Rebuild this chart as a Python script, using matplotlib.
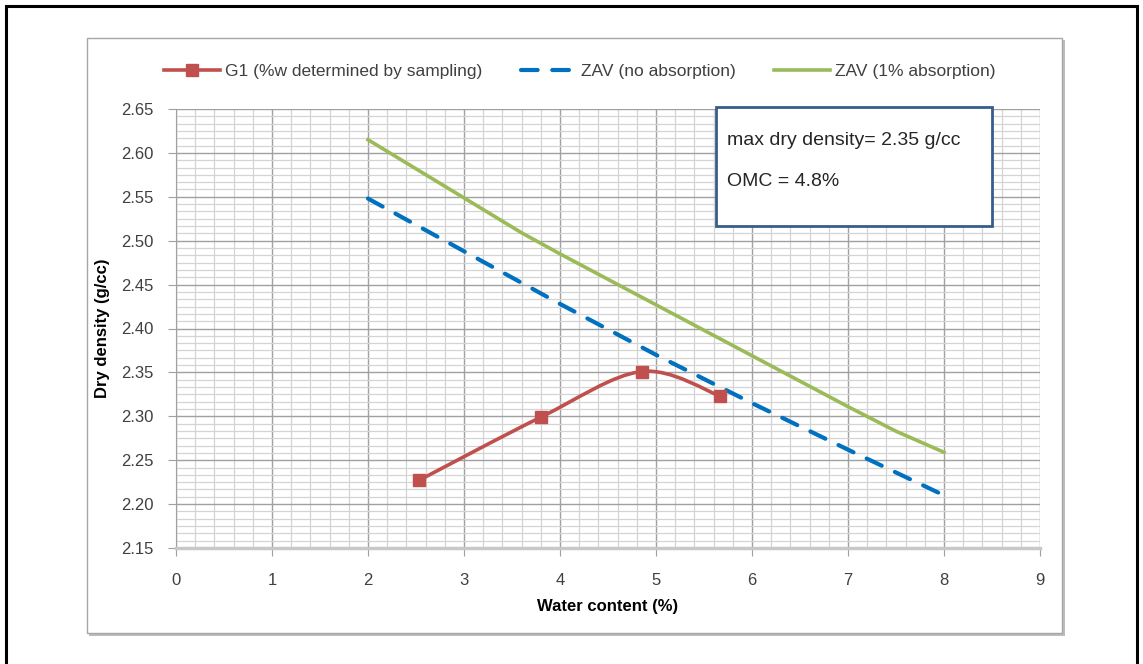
import numpy as np
import matplotlib
matplotlib.use("Agg")
import matplotlib.pyplot as plt
from matplotlib.path import Path
from matplotlib.patches import PathPatch, Rectangle
from matplotlib.ticker import MultipleLocator

plt.rcParams['font.family'] = ['Liberation Sans', 'DejaVu Sans']

# G1 compaction points
g1_w = [2.53, 3.80, 4.85, 5.67]
g1_rho = [2.227, 2.299, 2.351, 2.323]

# zero air voids, no absorption
zav_w = [2, 3, 4, 5, 6, 7, 8]
zav_rho = [2.548, 2.488, 2.428, 2.370, 2.315, 2.262, 2.210]

# zero air voids, 1% absorption
zav1_w = [2, 3.6, 4, 5, 6, 7, 7.5, 8]
zav1_rho = [2.615, 2.509, 2.485, 2.427, 2.369, 2.311, 2.283, 2.259]

x_ticks = list(range(0, 10))
y_ticks = [2.15, 2.20, 2.25, 2.30, 2.35, 2.40, 2.45, 2.50, 2.55, 2.60, 2.65]

red = '#c0504d'
blue = '#0070c0'
green = '#9bbb59'


def smooth_path(xs, ys):
    # excel style smoothed line, bezier segments through the points
    pts = np.column_stack([xs, ys])
    n = len(pts)
    verts = [pts[0]]
    codes = [Path.MOVETO]
    for i in range(n - 1):
        p0 = pts[i - 1] if i > 0 else pts[i]
        p1 = pts[i]
        p2 = pts[i + 1]
        p3 = pts[i + 2] if i + 2 < n else pts[i + 1]
        c1 = p1 + (p2 - p0) / 6.0
        c2 = p2 - (p3 - p1) / 6.0
        verts += [c1, c2, p2]
        codes += [Path.CURVE4] * 3
    return Path(verts, codes)


fig = plt.figure(figsize=(11.43, 6.64), dpi=100)

# outer black frame and chart area frame
fig.patches.append(Rectangle((6 / 1143, -0.05), 1131 / 1143, 1.05 - 6 / 664,
                             transform=fig.transFigure, fill=False,
                             edgecolor='black', linewidth=2.2, zorder=-1))
fig.patches.append(Rectangle((89 / 1143, 1 - 636 / 664), 976 / 1143, 596 / 664,
                             transform=fig.transFigure, fill=True, facecolor='#bdbdbd',
                             edgecolor='none', zorder=-3))
fig.patches.append(Rectangle((87 / 1143, 1 - 633 / 664), 975 / 1143, 595 / 664,
                             transform=fig.transFigure, fill=True, facecolor='white',
                             edgecolor='#a6a6a6', linewidth=1, zorder=-2))

ax = fig.add_axes([176 / 1143, 1 - 548 / 664, 864 / 1143, 439 / 664])
ax.set_facecolor('none')
ax.set_xlim(0, 9)
ax.set_ylim(2.15, 2.65)
ax.set_xticks(x_ticks)
ax.set_yticks(y_ticks)
ax.set_yticklabels(['%.2f' % v for v in y_ticks])
ax.xaxis.set_minor_locator(MultipleLocator(0.2))
ax.yaxis.set_minor_locator(MultipleLocator(0.05 / 6))
ax.grid(True, which='major', color='#a0a0a0', linewidth=1.0)
ax.grid(True, which='minor', color='#d4d4d4', linewidth=0.9)
ax.set_axisbelow(True)
for s in ['top', 'right']:
    ax.spines[s].set_visible(False)
ax.spines['left'].set_color('#a0a0a0')
ax.spines['bottom'].set_color('#c8c8c8')
ax.spines['bottom'].set_linewidth(2.5)
ax.tick_params(which='major', length=6, color='#a0a0a0', labelsize=12,
               labelcolor='#404040')
ax.tick_params(axis='x', which='major', pad=12)
ax.tick_params(axis='y', which='major', pad=10)
ax.tick_params(which='minor', length=0)

ax.set_xlabel('Water content (%)', fontsize=12, fontweight='bold', labelpad=8)
ax.set_ylabel('Dry density (g/cc)', fontsize=12, fontweight='bold', labelpad=8)

ax.plot(zav_w, zav_rho, color=blue, linewidth=3, linestyle=(0, (4, 3.5)),
        dash_capstyle='round', label='ZAV (no absorption)', zorder=3)
ax.plot(zav1_w, zav1_rho, color=green, linewidth=2.6,
        label='ZAV (1% absorption)', zorder=3)
ax.add_patch(PathPatch(smooth_path(g1_w, g1_rho), facecolor='none',
                       edgecolor=red, linewidth=2.6, zorder=4))
ax.plot(g1_w, g1_rho, linestyle='none', marker='s', markersize=8.5,
        color=red, zorder=5)
h_g1, = ax.plot([], [], color=red, linewidth=2.6, marker='s', markersize=8.5)

handles = [h_g1] + ax.get_lines()[:2]
labels = ['G1 (%w determined by sampling)', 'ZAV (no absorption)', 'ZAV (1% absorption)']
fig.legend(handles, labels, loc='center', bbox_to_anchor=(580 / 1143, 1 - 71 / 664),
           ncol=3, frameon=False, fontsize=12.5, handlelength=3.2,
           columnspacing=2.2, handletextpad=0.3, labelcolor='#404040')

# annotation box
ax.add_patch(Rectangle((0.625, 0.733), 0.319, 0.271, transform=ax.transAxes,
                       facecolor='white', edgecolor='#385d8a', linewidth=2,
                       zorder=6, clip_on=False))
ax.text(0.638, 0.929, 'max dry density= 2.35 g/cc', transform=ax.transAxes,
        fontsize=14, color='#262626', va='center', ha='left', zorder=7)
ax.text(0.638, 0.834, 'OMC = 4.8%', transform=ax.transAxes,
        fontsize=14, color='#262626', va='center', ha='left', zorder=7)

fig.savefig('out.png', dpi=100)
